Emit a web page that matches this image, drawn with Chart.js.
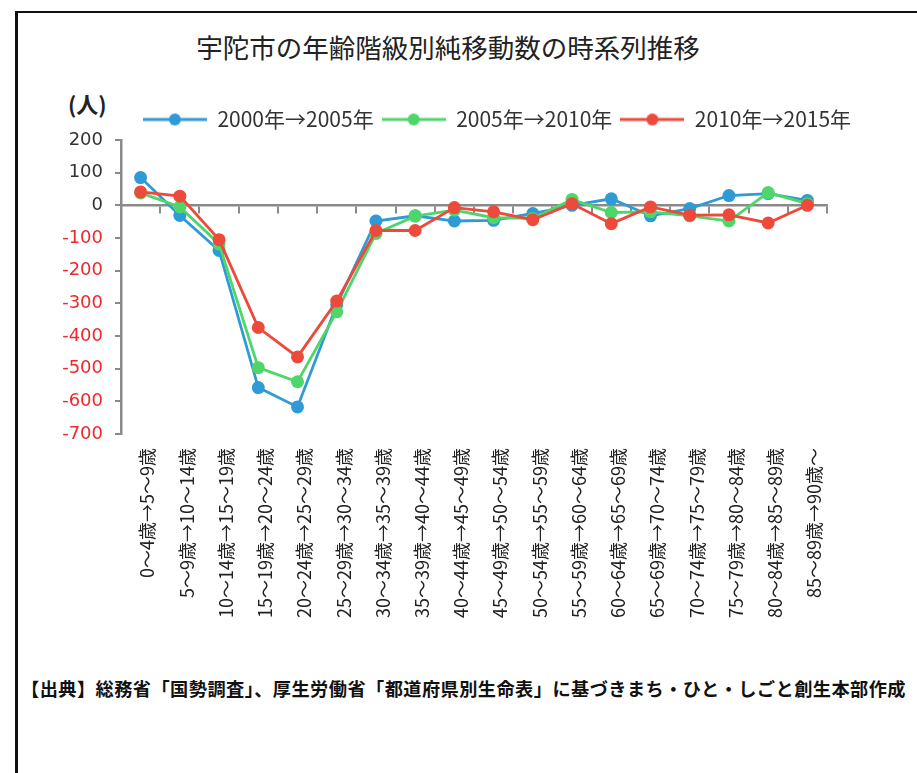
<!DOCTYPE html>
<html lang="ja">
<head>
<meta charset="utf-8">
<script src="https://cdn.jsdelivr.net/npm/chart.js@4.4.1/dist/chart.umd.min.js"></script>
<style>
    html, body { margin: 0; padding: 0; background: #fff; overflow: hidden; }
    body { width: 917px; height: 773px; position: relative; font-family: "Noto Sans CJK JP", sans-serif; }
    #frame { position: absolute; left: 15px; top: 11px; right: -4px; bottom: -4px; border-top: 2px solid #111; border-left: 3px solid #111; }
    #title { position: absolute; left: 0; width: 896px; top: 30px; text-align: center; font-size: 26.5px; color: #222; line-height: 34px; }
    #unit { position: absolute; left: 68px; top: 89px; font-size: 22px; font-weight: 700; color: #222; line-height: 28px; }
    #source { position: absolute; left: 21px; top: 676px; font-size: 18.2px; font-weight: 700; color: #111; line-height: 24px; white-space: nowrap; letter-spacing: 0.45px; }
    #chart { position: absolute; left: 0; top: 0; }
</style>
</head>
<body>
<div id="frame"></div>
<div id="title">宇陀市の年齢階級別純移動数の時系列推移</div>
<div id="unit">(人)</div>
<canvas id="chart" width="917" height="664"></canvas>
<div id="source">【出典】総務省「国勢調査」、厚生労働省「都道府県別生命表」に基づきまち・ひと・しごと創生本部作成</div>
<script>
/**
 * 宇陀市 年齢階級別純移動数 - line chart
 */

const categories = [
    '0～4歳→5～9歳', '5～9歳→10～14歳', '10～14歳→15～19歳', '15～19歳→20～24歳',
    '20～24歳→25～29歳', '25～29歳→30～34歳', '30～34歳→35～39歳', '35～39歳→40～44歳',
    '40～44歳→45～49歳', '45～49歳→50～54歳', '50～54歳→55～59歳', '55～59歳→60～64歳',
    '60～64歳→65～69歳', '65～69歳→70～74歳', '70～74歳→75～79歳', '75～79歳→80～84歳',
    '80～84歳→85～89歳', '85～89歳→90歳～'
];

const seriesNames = ['2000年→2005年', '2005年→2010年', '2010年→2015年'];

const moves2000to2005 = [85, -31, -138, -558, -617, -305, -48, -32, -48, -46, -25, 0, 20, -32, -10, 30, 36, 15];
const moves2005to2010 = [38, -5, -118, -497, -540, -326, -86, -33, -15, -38, -40, 18, -22, -20, -32, -48, 39, 5];
const moves2010to2015 = [41, 28, -105, -374, -464, -293, -77, -77, -7, -20, -44, 5, -56, -5, -30, -29, -54, 0];

const yTickMin = -700;
const yTickMax = 200;
const yTickStep = 100;

const COLORS = ['#2e9ad6', '#4fd66b', '#ee4a3c'];
const AXIS_GRAY = '#8a8a8a';

// legend marker: line with a dot in the middle, like the original
function legendMark(color) {
    const c = document.createElement('canvas');
    c.width = 64;
    c.height = 14;
    const g = c.getContext('2d');
    g.strokeStyle = color;
    g.lineWidth = 3;
    g.beginPath();
    g.moveTo(0, 7);
    g.lineTo(64, 7);
    g.stroke();
    g.fillStyle = color;
    g.beginPath();
    g.arc(32, 7, 6, 0, Math.PI * 2);
    g.fill();
    return c;
}
const marks = COLORS.map(legendMark);

function lineDataset(label, data, color, order) {
    return {
        label: label,
        data: data,
        xAxisID: 'x',
        yAxisID: 'y',
        borderColor: color,
        backgroundColor: color,
        borderWidth: 2.8,
        pointRadius: 6.5,
        pointHoverRadius: 6.5,
        pointBackgroundColor: color,
        pointBorderColor: color,
        pointBorderWidth: 0,
        tension: 0,
        order: order
    };
}

const ctx = document.getElementById('chart');

new Chart(ctx, {
    type: 'line',
    data: {
        labels: categories,
        datasets: [
            lineDataset(seriesNames[0], moves2000to2005, COLORS[0], 3),
            lineDataset(seriesNames[1], moves2005to2010, COLORS[1], 2),
            lineDataset(seriesNames[2], moves2010to2015, COLORS[2], 1)
        ]
    },
    options: {
        responsive: false,
        animation: false,
        layout: {
            // negative right padding only recentres the legend row
            padding: { left: 55, top: 93, right: -22, bottom: 0 }
        },
        plugins: {
            title: { display: false },
            tooltip: { enabled: false },
            legend: {
                display: true,
                position: 'top',
                align: 'center',
                labels: {
                    usePointStyle: true,
                    pointStyleWidth: 64,
                    padding: 8,
                    color: '#333',
                    font: { family: '"Noto Sans CJK JP", sans-serif', size: 21 },
                    sort: (a, b) => a.datasetIndex - b.datasetIndex,
                    generateLabels: function(chart) {
                        const items = Chart.defaults.plugins.legend.labels.generateLabels(chart);
                        items.forEach(it => { it.pointStyle = marks[it.datasetIndex]; });
                        return items;
                    }
                }
            }
        },
        scales: {
            x: {
                type: 'category',
                position: 'bottom',
                offset: true,
                grid: { display: false, drawTicks: false },
                border: { display: false },
                ticks: {
                    autoSkip: false,
                    minRotation: 90,
                    maxRotation: 90,
                    padding: 14,
                    labelOffset: 7,
                    color: '#222',
                    font: { family: '"Noto Sans CJK JP", sans-serif', size: 18 }
                },
                afterFit: function(scale) {
                    scale.height = 230;
                    scale.paddingRight = 90;
                }
            },
            // category axis drawn across the zero line, labels stay at the bottom
            x2: {
                type: 'category',
                axis: 'x',
                position: { y: 0 },
                offset: true,
                grid: {
                    offset: true,
                    drawOnChartArea: false,
                    drawTicks: true,
                    tickLength: 7,
                    color: AXIS_GRAY,
                    lineWidth: 2
                },
                border: { display: true, color: AXIS_GRAY, width: 2.5 },
                ticks: { display: false }
            },
            y: {
                min: yTickMin,
                max: yTickMax,
                grid: {
                    drawOnChartArea: false,
                    drawTicks: true,
                    tickLength: 6,
                    color: AXIS_GRAY,
                    lineWidth: 2
                },
                border: { display: true, color: AXIS_GRAY, width: 2.5 },
                ticks: {
                    stepSize: yTickStep,
                    padding: 12,
                    font: { family: '"DejaVu Sans", sans-serif', size: 18 },
                    color: function(c) {
                        return c.tick.value < 0 ? '#f0282d' : '#333';
                    }
                },
                afterFit: function(scale) {
                    scale.width = 66;
                    scale.paddingTop = 140;
                }
            }
        }
    }
});
</script>
</body>
</html>
